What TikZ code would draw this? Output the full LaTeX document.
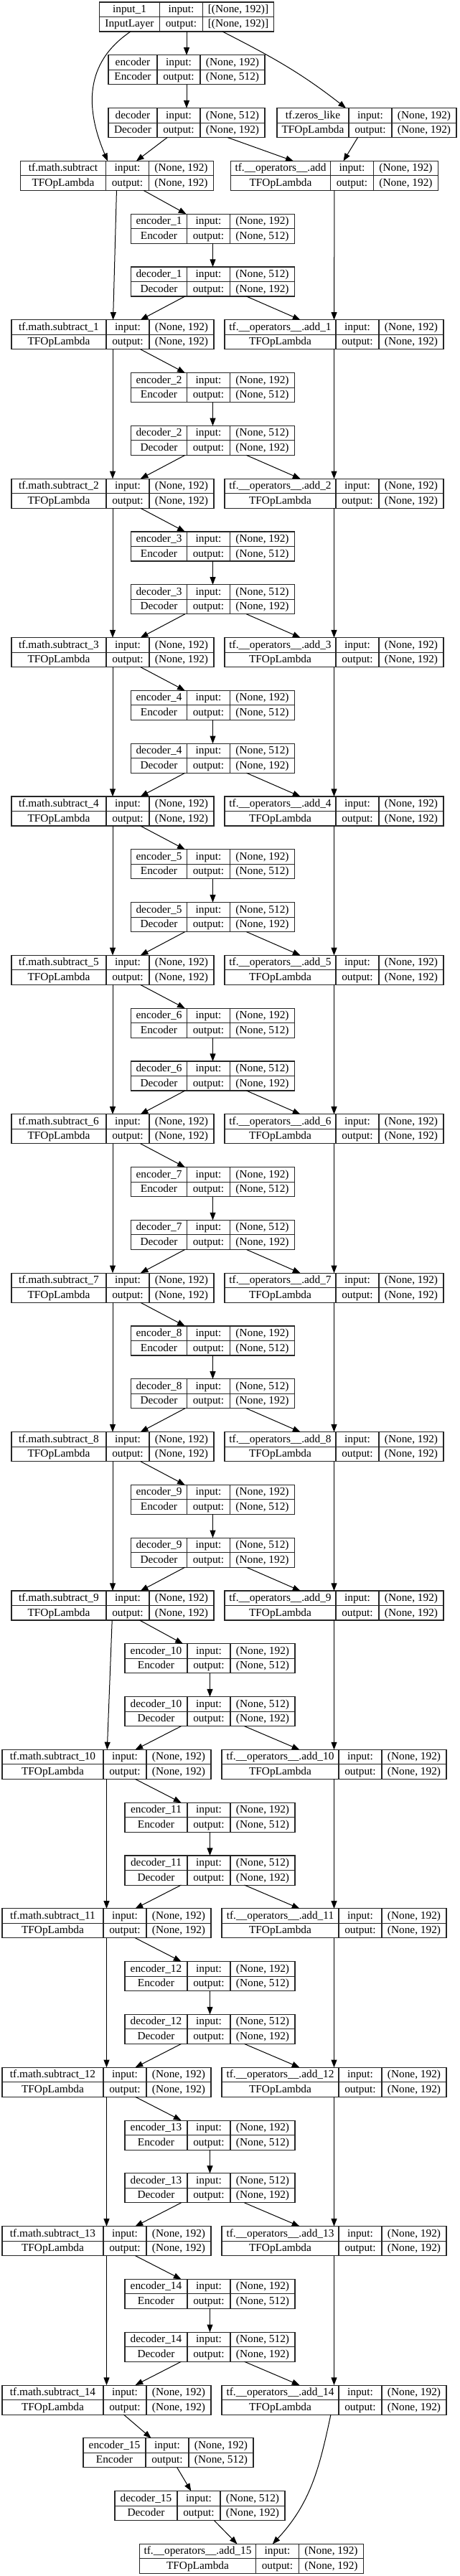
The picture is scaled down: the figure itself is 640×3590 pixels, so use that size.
\documentclass[tikz,border=0pt]{standalone}
\usepackage{fontspec}
\setmainfont{Liberation Serif}
\usepackage{tikz}
\usetikzlibrary{arrows.meta, calc}
\tikzstyle{layer} = [rectangle, draw=black!85, line width=0.8pt, anchor=north, minimum height=30.75pt, inner sep=0pt, outer sep=0pt]
\tikzstyle{cellrule} = [draw=black!85, line width=0.8pt]
\tikzstyle{cell} = [inner sep=0pt, anchor=base, font=\fontsize{11.5}{14}\selectfont]
\tikzstyle{arrow} = [line width=0.75pt, -{Triangle[length=8pt, width=6pt]}]

% name, x, top y, first column width, last column width, label, class, input, output
\newcommand{\layerbox}[9]{%
  \node[layer, minimum width={(#4+#5+60)*0.75pt}] (#1) at (#2,#3) {};
  \draw[cellrule] (#1.west) -- (#1.east);
  \draw[cellrule] ($(#1.north west)+(#4,0)$) -- ($(#1.south west)+(#4,0)$);
  \draw[cellrule] ($(#1.north west)+(#4+60,0)$) -- ($(#1.south west)+(#4+60,0)$);
  \node[cell] (#1n) at ($(#1.north west)+(#4/2,-14.5)$) {#6};
  \node[cell] (#1c) at ($(#1.north west)+(#4/2,-35)$) {#7};
  \node[cell] (#1i) at ($(#1.north west)+(#4+30,-14.5)$) {input:};
  \node[cell] (#1o) at ($(#1.north west)+(#4+30,-35)$) {output:};
  \node[cell] (#1a) at ($(#1.north west)+(#4+60+#5/2,-14.5)$) {#8};
  \node[cell] (#1b) at ($(#1.north west)+(#4+60+#5/2,-35)$) {#9};
}

\begin{document}
\begin{tikzpicture}[x=0.75pt, y=0.75pt]
	\fill[white] (0,0) rectangle (640,-3590);
	\useasboundingbox (0,0) rectangle (640,-3590);

	\layerbox{inp}{260}{-3}{84}{99}{input\_1}{InputLayer}{[(None, 192)]}{[(None, 192)]}
	\layerbox{enc0}{260}{-76.8}{68}{90}{encoder}{Encoder}{(None, 192)}{(None, 512)}
	\layerbox{dec0}{260}{-150.6}{68}{90}{decoder}{Decoder}{(None, 512)}{(None, 192)}
	\layerbox{zeros}{511}{-150.6}{100}{90}{tf.zeros\_like}{TFOpLambda}{(None, 192)}{(None, 192)}
	\layerbox{sub0}{163}{-224.4}{119}{90}{tf.math.subtract}{TFOpLambda}{(None, 192)}{(None, 192)}
	\layerbox{add0}{466}{-224.4}{139}{90}{tf.\_\_operators\_\_.add}{TFOpLambda}{(None, 192)}{(None, 192)}

	\draw [arrow] (inp) -- (enc0);
	\draw [arrow] ([xshift=-58.5pt]inp.south) to[out=-146, in=113, looseness=1.1] ([xshift=-9.75pt]sub0.north);
	\draw [arrow] ([xshift=37.5pt]inp.south) to[out=-27, in=142] ([xshift=-21.75pt]zeros.north);
	\draw [arrow] (enc0) -- (dec0);
	\draw [arrow] (dec0) -- (sub0);
	\draw [arrow] (dec0) -- (add0);
	\draw [arrow] (zeros) -- (add0);

	\foreach \i in {1,...,14}{
		\pgfmathtruncatemacro{\j}{\i-1}
		\pgfmathsetmacro{\ytopenc}{-3-73.8*(3*\i+1)}
		\pgfmathsetmacro{\ytopdec}{-3-73.8*(3*\i+2)}
		\pgfmathsetmacro{\ytopsub}{-3-73.8*(3*\i+3)}
		\ifnum\i<10
			\def\encx{296.5}\def\encw{78}\def\subx{157}\def\subw{132}\def\addw{155}
		\else
			\def\encx{292.5}\def\encw{87}\def\subx{148.5}\def\subw{141}\def\addw{163}
		\fi
		\layerbox{enc\i}{\encx}{\ytopenc}{\encw}{90}{encoder\_\i}{Encoder}{(None, 192)}{(None, 512)}
		\layerbox{dec\i}{\encx}{\ytopdec}{\encw}{90}{decoder\_\i}{Decoder}{(None, 512)}{(None, 192)}
		\layerbox{sub\i}{\subx}{\ytopsub}{\subw}{90}{tf.math.subtract\_\i}{TFOpLambda}{(None, 192)}{(None, 192)}
		\layerbox{add\i}{465.5}{\ytopsub}{\addw}{90}{tf.\_\_operators\_\_.add\_\i}{TFOpLambda}{(None, 192)}{(None, 192)}

		\draw [arrow] (sub\j) -- (enc\i);
		\draw [arrow] (enc\i) -- (dec\i);
		\draw [arrow] (dec\i) -- (sub\i);
		\draw [arrow] (dec\i) -- (add\i);
		\draw [arrow] (sub\j) -- (sub\i);
		\draw [arrow] (add\j) -- (add\i);
	}

	\layerbox{enc15}{234.5}{-3397.8}{87}{90}{encoder\_15}{Encoder}{(None, 192)}{(None, 512)}
	\layerbox{dec15}{278.5}{-3471.6}{87}{90}{decoder\_15}{Decoder}{(None, 512)}{(None, 192)}
	\layerbox{add15}{350.5}{-3545.4}{162}{90}{tf.\_\_operators\_\_.add\_15}{TFOpLambda}{(None, 192)}{(None, 192)}

	\draw [arrow] (sub14) -- (enc15);
	\draw [arrow] (enc15) -- (dec15);
	\draw [arrow] (dec15) -- (add15);
	\draw [arrow] ([xshift=-3.4pt]add14.south) to[out=-102, in=47] ([xshift=22pt]add15.north);
\end{tikzpicture}
\end{document}
